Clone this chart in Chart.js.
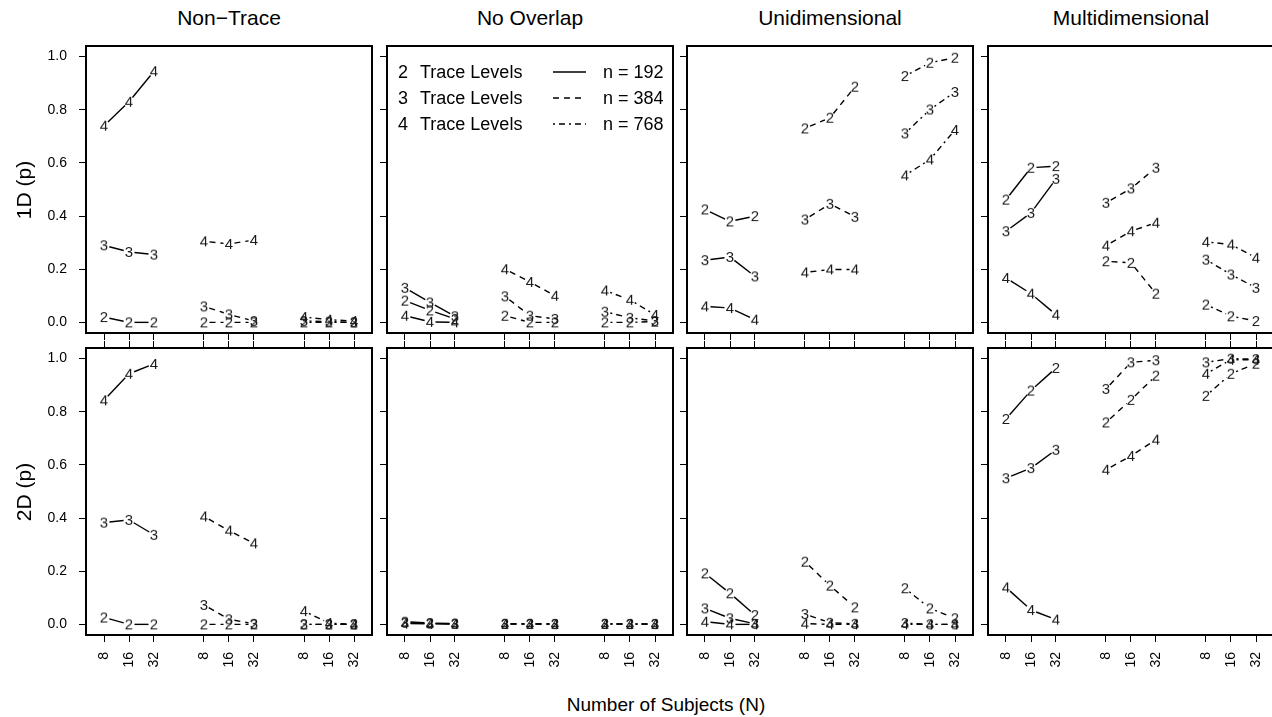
<!DOCTYPE html>
<html>
<head>
<meta charset="utf-8">
<script src="https://cdn.jsdelivr.net/npm/chart.js@4.4.1/dist/chart.umd.min.js"></script>
<style>
  body { margin: 0; background: #fff; }
  #wrap { position: relative; width: 1272px; height: 717px; overflow: hidden;
          font-family: 'Liberation Sans', Arial, sans-serif; color: #000; }
  #wrap canvas { position: absolute; }
  .lbl { position: absolute; white-space: nowrap; line-height: 24px; }
  .strip { width: 300px; text-align: center; font-size: 21px; top: 6px; }
  .ytitle { font-size: 21px; transform: translate(-50%, -50%) rotate(-90deg); }
  .xtitle { font-size: 19px; transform: translate(-50%, -50%); }
</style>
</head>
<body>
<div id="wrap"></div>
<script>
// panel headings, row titles, legend text, tick labels
const conditions = ['Non\u2212Trace', 'No Overlap', 'Unidimensional', 'Multidimensional'];
const dimensions = ['1D (p)', '2D (p)'];
const traceLevels = ['2', '3', '4'];
const sampleSizes = ['n = 192', 'n = 384', 'n = 768'];
const subjects = ['8', '16', '32'];
const xTickPos = [1, 2, 3, 5, 6, 7, 9, 10, 11];
const yTicks = [0, 0.2, 0.4, 0.6, 0.8, 1.0];

// every series: n=192 (N = 8,16,32), n=384 (N = 8,16,32), n=768 (N = 8,16,32)
const nonTrace1D_2 = [0.02, 0.0, 0.0, 0.0, 0.0, 0.0, 0.0, 0.0, 0.0];
const nonTrace1D_3 = [0.29, 0.265, 0.255, 0.06, 0.03, 0.005, 0.005, 0.003, 0.0];
const nonTrace1D_4 = [0.74, 0.83, 0.945, 0.305, 0.295, 0.31, 0.02, 0.01, 0.005];

const noOverlap1D_2 = [0.082, 0.045, 0.013, 0.025, 0.0, 0.0, 0.0, 0.0, 0.003];
const noOverlap1D_3 = [0.13, 0.075, 0.023, 0.098, 0.025, 0.013, 0.04, 0.017, 0.005];
const noOverlap1D_4 = [0.025, 0.002, 0.0, 0.2, 0.152, 0.1, 0.12, 0.085, 0.028];

const uni1D_2 = [0.425, 0.38, 0.40, 0.73, 0.77, 0.887, 0.927, 0.977, 0.996];
const uni1D_3 = [0.234, 0.246, 0.173, 0.387, 0.446, 0.397, 0.711, 0.801, 0.867];
const uni1D_4 = [0.06, 0.054, 0.01, 0.188, 0.199, 0.199, 0.553, 0.613, 0.724];

const multi1D_2 = [0.462, 0.582, 0.588, 0.23, 0.224, 0.108, 0.067, 0.023, 0.005];
const multi1D_3 = [0.343, 0.412, 0.54, 0.45, 0.504, 0.582, 0.236, 0.18, 0.13];
const multi1D_4 = [0.167, 0.108, 0.029, 0.289, 0.343, 0.375, 0.303, 0.293, 0.243];

const nonTrace2D_2 = [0.026, 0.0, 0.0, 0.0, 0.0, 0.0, 0.0, 0.0, 0.0];
const nonTrace2D_3 = [0.383, 0.393, 0.337, 0.073, 0.019, 0.002, 0.0, 0.0, 0.0];
const nonTrace2D_4 = [0.843, 0.943, 0.98, 0.406, 0.353, 0.305, 0.05, 0.005, 0.0];

const noOverlap2D_2 = [0.01, 0.005, 0.003, 0.002, 0.002, 0.002, 0.002, 0.002, 0.002];
const noOverlap2D_3 = [0.006, 0.003, 0.002, 0.002, 0.002, 0.001, 0.002, 0.001, 0.001];
const noOverlap2D_4 = [0.003, 0.002, 0.001, 0.001, 0.001, 0.001, 0.001, 0.001, 0.001];

const uni2D_2 = [0.192, 0.117, 0.035, 0.236, 0.146, 0.064, 0.136, 0.06, 0.023];
const uni2D_3 = [0.06, 0.023, 0.002, 0.039, 0.006, 0.002, 0.005, 0.0, 0.0];
const uni2D_4 = [0.01, 0.0, 0.0, 0.003, 0.0, 0.0, 0.0, 0.0, 0.0];

const multi2D_2 = [0.773, 0.88, 0.965, 0.76, 0.845, 0.936, 0.86, 0.943, 0.981];
const multi2D_3 = [0.55, 0.588, 0.657, 0.886, 0.986, 0.994, 0.986, 1.0, 0.998];
const multi2D_4 = [0.139, 0.054, 0.018, 0.582, 0.634, 0.695, 0.943, 0.996, 0.996];

const panelSeries = [
    [[nonTrace1D_2, nonTrace1D_3, nonTrace1D_4], [noOverlap1D_2, noOverlap1D_3, noOverlap1D_4],
     [uni1D_2, uni1D_3, uni1D_4], [multi1D_2, multi1D_3, multi1D_4]],
    [[nonTrace2D_2, nonTrace2D_3, nonTrace2D_4], [noOverlap2D_2, noOverlap2D_3, noOverlap2D_4],
     [uni2D_2, uni2D_3, uni2D_4], [multi2D_2, multi2D_3, multi2D_4]]
];

// layout
const FONT = "'Liberation Sans', Arial, sans-serif";
const colLeft = [86, 387, 687, 988];
const rowTop = [46, 348];
const PANEL_W = 286, PANEL_H = 287;
const PAD = 3;
const GAP = 5.5;
const dashes = [[], [6, 5], [2, 4, 6, 4]];

Chart.defaults.font.family = FONT;
Chart.defaults.color = '#000';

function makeDigit(ch) {
    const c = document.createElement('canvas');
    c.width = 16; c.height = 18;
    const g = c.getContext('2d');
    g.font = '15px ' + FONT;
    g.fillStyle = '#1a1a1a';
    g.textAlign = 'center';
    g.textBaseline = 'alphabetic';
    g.fillText(ch, 8, 14.4);
    return c;
}
const digitMarks = traceLevels.map(makeDigit);

// lines with a gap round each plotted digit (type "b")
const gapLines = {
    id: 'gapLines',
    beforeDatasetsDraw(chart) {
        const ctx = chart.ctx;
        ctx.save();
        ctx.strokeStyle = '#000';
        ctx.lineWidth = 1.4;
        chart.data.datasets.forEach((ds, i) => {
            const pts = chart.getDatasetMeta(i).data;
            ctx.setLineDash(ds.dash);
            for (let k = 1; k < pts.length; k++) {
                const a = pts[k - 1], b = pts[k];
                const dx = b.x - a.x, dy = b.y - a.y;
                const d = Math.hypot(dx, dy);
                if (d <= 2 * GAP) continue;
                const ux = dx / d, uy = dy / d;
                ctx.beginPath();
                ctx.moveTo(a.x + ux * GAP, a.y + uy * GAP);
                ctx.lineTo(b.x - ux * GAP, b.y - uy * GAP);
                ctx.stroke();
            }
        });
        ctx.restore();
    }
};

const panelBox = {
    id: 'panelBox',
    afterDraw(chart) {
        const {ctx, chartArea: a} = chart;
        ctx.save();
        ctx.strokeStyle = '#000';
        ctx.lineWidth = 2;
        ctx.strokeRect(a.left, a.top, a.right - a.left, a.bottom - a.top);
        ctx.restore();
    }
};

const legendBox = {
    id: 'legendBox',
    afterDraw(chart) {
        const {ctx, chartArea: a} = chart;
        ctx.save();
        ctx.font = '18px ' + FONT;
        ctx.fillStyle = '#000';
        ctx.strokeStyle = '#000';
        ctx.lineWidth = 1.4;
        ctx.textAlign = 'left';
        ctx.textBaseline = 'alphabetic';
        traceLevels.forEach((lv, i) => {
            const y = a.top + 26 + i * 26;
            ctx.fillText(lv, a.left + 11, y + 6);
            ctx.fillText('Trace Levels', a.left + 33, y + 6);
            ctx.setLineDash(dashes[i]);
            ctx.beginPath();
            ctx.moveTo(a.left + 166, y);
            ctx.lineTo(a.left + 199, y);
            ctx.stroke();
            ctx.fillText(sampleSizes[i], a.left + 216, y + 6);
        });
        ctx.restore();
    }
};

function buildDatasets(series) {
    const out = [];
    series.forEach((values, l) => {
        sampleSizes.forEach((n, g) => {
            out.push({
                label: traceLevels[l] + ' Trace Levels, ' + n,
                data: subjects.map((s, j) => ({ x: xTickPos[g * 3 + j], y: values[g * 3 + j] })),
                dash: dashes[g],
                pointStyle: digitMarks[l],
                pointRadius: 6,
                pointHoverRadius: 6
            });
        });
    });
    return out;
}

function noPadding(s) {
    s.paddingLeft = 0; s.paddingRight = 0; s.paddingTop = 0; s.paddingBottom = 0;
}

function xAxis(position, showLabels, height) {
    return {
        type: 'linear', position: position, min: 0.28, max: 11.72,
        afterBuildTicks: s => { s.ticks = xTickPos.map(v => ({ value: v })); },
        ticks: {
            display: showLabels, autoSkip: false, minRotation: 90, maxRotation: 90,
            padding: 10, font: { size: 14 }, color: '#000',
            callback: (v, i) => subjects[i % 3]
        },
        grid: { drawOnChartArea: false, drawTicks: true, tickLength: 7, color: '#000', lineWidth: 1 },
        border: { display: false },
        afterFit: s => { s.height = height; noPadding(s); }
    };
}

function createPanel(row, col) {
    const wrap = document.getElementById('wrap');
    const yW = col === 0 ? 60 : 10;
    const topH = row === 1 ? 8 : 0;
    const bottomH = row === 1 ? 55 : 8;
    const canvas = document.createElement('canvas');
    canvas.width = yW + PANEL_W + PAD;
    canvas.height = PAD + topH + PANEL_H + bottomH + PAD;
    canvas.style.left = (colLeft[col] - yW) + 'px';
    canvas.style.top = (rowTop[row] - topH - PAD) + 'px';
    wrap.appendChild(canvas);

    const scales = {
        x: xAxis('bottom', row === 1, bottomH),
        y: {
            type: 'linear', position: 'left', min: -0.04, max: 1.04,
            afterBuildTicks: s => { s.ticks = yTicks.map(v => ({ value: v })); },
            ticks: { display: col === 0, padding: 12, font: { size: 14 }, color: '#000',
                     callback: v => v.toFixed(1) },
            grid: { drawOnChartArea: false, drawTicks: true, tickLength: 7, color: '#000', lineWidth: 1 },
            border: { display: false },
            afterFit: s => { s.width = yW; noPadding(s); }
        }
    };
    if (row === 1) scales.xTop = xAxis('top', false, topH);

    const plugins = [gapLines, panelBox];
    if (row === 0 && col === 1) plugins.push(legendBox);

    return new Chart(canvas, {
        type: 'scatter',
        data: { datasets: buildDatasets(panelSeries[row][col]) },
        options: {
            responsive: false,
            animation: false,
            devicePixelRatio: 1,
            events: [],
            layout: { autoPadding: false, padding: { left: 0, right: PAD, top: PAD, bottom: PAD } },
            plugins: { legend: { display: false }, tooltip: { enabled: false } },
            scales: scales
        },
        plugins: plugins
    });
}

function addLabel(cls, text, x, y) {
    const d = document.createElement('div');
    d.className = 'lbl ' + cls;
    d.textContent = text;
    d.style.left = x + 'px';
    d.style.top = y + 'px';
    document.getElementById('wrap').appendChild(d);
}

for (let r = 0; r < 2; r++) {
    for (let c = 0; c < 4; c++) createPanel(r, c);
}
conditions.forEach((t, c) => {
    const d = document.createElement('div');
    d.className = 'lbl strip';
    d.textContent = t;
    d.style.left = (colLeft[c] + PANEL_W / 2 - 150) + 'px';
    document.getElementById('wrap').appendChild(d);
});
dimensions.forEach((t, r) => addLabel('ytitle', t, 24, rowTop[r] + PANEL_H / 2));
addLabel('xtitle', 'Number of Subjects (N)', 666, 705);
</script>
</body>
</html>
